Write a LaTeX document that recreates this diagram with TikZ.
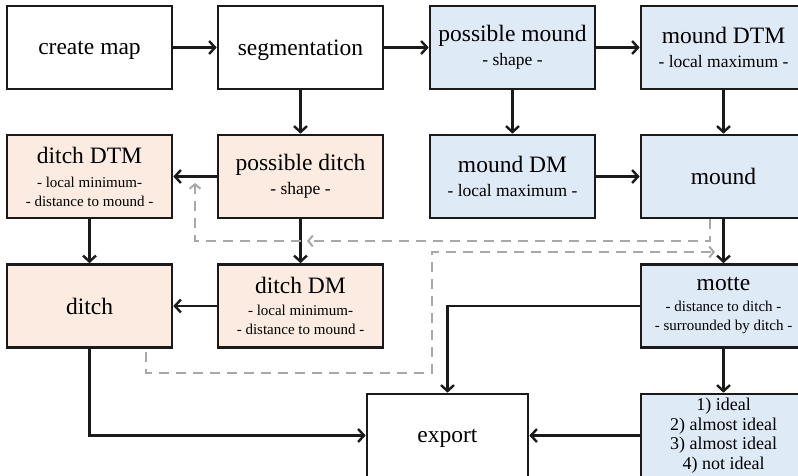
\documentclass[tikz,border=0pt]{standalone}
\usepackage{fontspec}
\setmainfont{Liberation Serif}
\usetikzlibrary{arrows.meta,positioning}
\definecolor{motink}{HTML}{1A1A1A}
\definecolor{motditch}{HTML}{FBEBE0}
\definecolor{motmound}{HTML}{DEEAF5}
\definecolor{motgrey}{HTML}{A8A8A8}
\newcommand{\subs}[1]{{\fontsize{15}{16}\selectfont #1}}
\newcommand{\subm}[1]{{\fontsize{17.5}{18}\selectfont #1}}
\tikzset{
  blk/.style={draw=motink, line width=2.6pt, fill=white, minimum width=165pt, minimum height=83pt, inner sep=0pt, align=center, font=\fontsize{23.5}{24}\selectfont},
  dit/.style={blk, fill=motditch},
  mnd/.style={blk, fill=motmound},
  one/.style={text depth=0pt},
  arr/.style={-{Straight Barb[length=6pt,width=13pt]}, line width=2.4pt, color=motink},
  dsh/.style={-{Straight Barb[length=4.5pt,width=11pt]}, line width=2pt, color=motgrey, dash pattern=on 10pt off 7pt},
}

\begin{document}
\begin{tikzpicture}[x=1pt,y=-1pt]
  \useasboundingbox (0,0) rectangle (798,476);
  \clip (0,0) rectangle (798,476);
  % boxes, one row after the other
  \node[blk, one] (map) at (89.5,47.5) {create map};
  \node[blk, one] (seg) at (300.5,47.5) {segmentation};
  \node[mnd] (pmound) at (512.5,47.5) {possible mound\\\subm{- shape -}};
  \node[mnd] (mdtm) at (723.5,47.5) {mound DTM\\\subm{- local maximum -}};
  \node[dit] (ddtm) at (89.5,176.5) {ditch DTM\\\subs{- local minimum-}\\[-5pt]\subs{- distance  to mound -}};
  \node[dit] (pditch) at (300.5,176.5) {possible ditch\\\subm{- shape -}};
  \node[mnd] (mdm) at (512.5,176.5) {mound DM\\\subm{- local maximum -}};
  \node[mnd, one] (mound) at (723.5,176.5) {mound};
  \node[dit, one] (ditch) at (89.5,306) {ditch};
  \node[dit] (ddm) at (300.5,306) {ditch DM\\[-2pt]\subs{- local minimum-}\\[-5pt]\subs{- distance  to mound -}};
  \node[mnd] (motte) at (723.5,306) {motte\\[-3pt]\subs{- distance to ditch -}\\[-5pt]\subs{- surrounded by ditch -}};
  \node[blk, one, minimum width=161pt] (export) at (447.5,435.5) {export};
  \node[mnd, font=\fontsize{18}{19.5}\selectfont] (rank) at (723.5,435.5) {1) ideal\\2) almost ideal\\3) almost ideal\\4) not ideal};

  % main flow
  \draw[arr] (map) -- (seg);
  \draw[arr] (seg) -- (pmound);
  \draw[arr] (pmound) -- (mdtm);
  \draw[arr] (seg) -- (pditch);
  \draw[arr] (pmound) -- (mdm);
  \draw[arr] (mdtm) -- (mound);
  \draw[arr] (pditch) -- (ddtm);
  \draw[arr] (mdm) -- (mound);
  \draw[arr] (ddtm) -- (ditch);
  \draw[arr] (pditch) -- (ddm);
  \draw[arr] (ddm) -- (ditch);
  \draw[arr] (mound) -- (motte);
  \draw[arr] (motte) -- (rank);
  \draw[arr] (rank) -- (export);
  \draw[arr] (motte.west) -| (export.north);
  \draw[arr] (ditch.south) |- (export.west);

  % feedback (dashed)
  \coordinate (mk1) at (710,241);
  \coordinate (mk2) at (195,241);
  \coordinate (mk3) at (432,252);
  \coordinate (mk4) at (146,373);
  \coordinate (mk5) at (307,241);
  \coordinate (mk6) at (195,183);
  \coordinate (mk7) at (715,252);
  \coordinate (mk8) at (146,352);
  \draw[dsh] (mound.south -| mk1) -- (mk1) -- (mk5);
  \draw[dsh] (pditch.south |- mk1) -- (mk2) -- (mk6);
  \draw[dsh] (mk8) -- (mk4) -- (mk4 -| mk3) -- (mk3) -- (mk7);
\end{tikzpicture}
\end{document}
